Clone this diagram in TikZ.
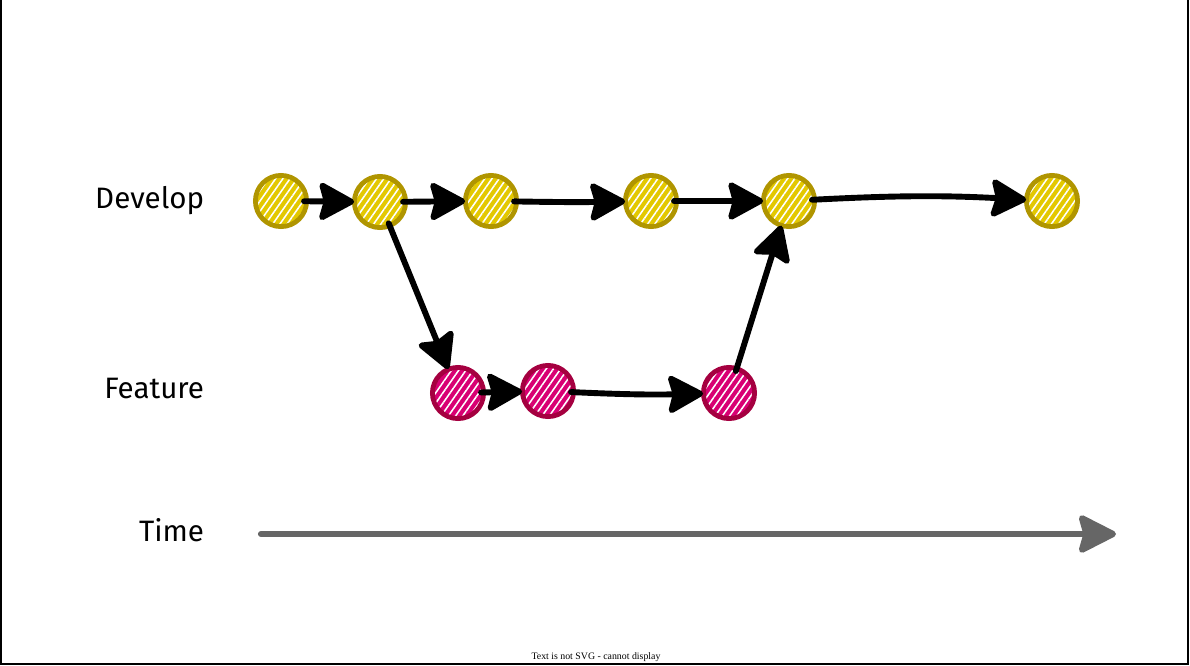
\documentclass[tikz,border=0pt]{standalone}
\usepackage{fontspec}
\setmainfont{Fira Sans}
\newfontfamily\smallserif{Liberation Serif}
\usetikzlibrary{arrows.meta}
\usetikzlibrary{patterns.meta}

\definecolor{devfill}{HTML}{E3C800}
\definecolor{devline}{HTML}{B09500}
\definecolor{featfill}{HTML}{D80073}
\definecolor{featline}{HTML}{A50040}
\definecolor{timegray}{HTML}{666666}

\begin{document}
\begin{tikzpicture}[x=0.025cm,y=-0.025cm]
		\tikzset{commit/.style = {shape=circle,minimum size=1.28cm,
				inner sep = 0pt,
				postaction={pattern={Lines[angle=55,distance=4.2pt,line width=1.1pt]},
					pattern color=white}}}
		\tikzset{devcommit/.style = {commit, fill=devfill,
				postaction={draw=devline, line width=3.4pt}}}
		\tikzset{featcommit/.style = {commit, fill=featfill,
				postaction={draw=featline, line width=3.4pt}}}
		\tikzset{edge/.style = {-{Stealth[length=28pt,width=30pt,inset=4pt,round]},
				line width=4.2pt, line cap=round, shorten <=-2pt}}
		\tikzset{timeedge/.style = {-{Stealth[length=30pt,width=30pt,inset=4pt,round]},
				line width=4.4pt, line cap=round, draw=timegray}}
		\tikzset{branch/.style = {font=\fontsize{21}{25}\selectfont, anchor=east}}

	\useasboundingbox (0,0) rectangle (1190,665);
	\draw[line width=0.8pt] (1,0) -- (1,664) -- (1188,664) -- (1188,0);

	% labels
	\node[branch] (devlabel) at (209,201) {Develop};
	\node[branch] (featlabel) at (209,388) {Feature};
	\node[branch] (timelabel) at (209,530) {Time};

	% vertices
	\node[devcommit] (d1) at (281,201) {};
	\node[devcommit] (d2) at (380,202) {};
	\node[devcommit] (d3) at (491,201) {};
	\node[devcommit] (d4) at (651,201) {};
	\node[devcommit] (d5) at (789,201) {};
	\node[devcommit] (d6) at (1052,201) {};
	\node[featcommit] (f1) at (458,393) {};
	\node[featcommit] (f2) at (548,391) {};
	\node[featcommit] (f3) at (729,393) {};

	\coordinate (tstart) at (261,534);
	\coordinate (tend) at (1116,534);

	%edges
	\draw[edge] (d1) to (d2);
	\draw[edge] (d2) to (d3);
	\draw[edge, bend right = 1] (d3) to (d4);
	\draw[edge] (d4) to (d5);
	\draw[edge, bend left = 3] (d5) to (d6);
	\draw[edge] (d2) to (f1);
	\draw[edge] (f1) to (f2);
	\draw[edge, bend right = 2] (f2) to (f3);
	\draw[edge] (f3) to (d5);
	\draw[timeedge] (tstart) -- (tend);

	\node[font=\smallserif\fontsize{7}{8}\selectfont] (note) at (596,657) {Text is not SVG - cannot display};
\end{tikzpicture}
\end{document}
